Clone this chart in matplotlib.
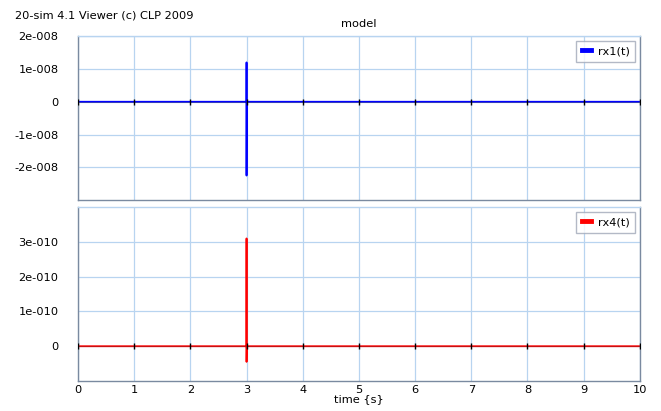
import matplotlib.pyplot as plt

plt.rcParams['font.family'] = ['DejaVu Sans']

# data
time = [0.0, 2.999, 3.0, 3.0, 3.003, 10.0]
rx1 = [0.0, 0.0, 1.2e-8, -2.25e-8, 0.0, 0.0]
rx4 = [0.0, 0.0, 3.1e-10, -0.45e-10, 0.0, 0.0]
xticks = [0, 1, 2, 3, 4, 5, 6, 7, 8, 9, 10]
top_ticks = [-2e-8, -1e-8, 0, 1e-8, 2e-8]
top_labels = ['-2e-008', '-1e-008', '0', '1e-008', '2e-008']
bot_ticks = [0, 1e-10, 2e-10, 3e-10]
bot_labels = ['0', '1e-010', '2e-010', '3e-010']

fig = plt.figure(figsize=(6.61, 4.11), dpi=100)
ax1 = fig.add_axes([0.118, 0.513, 0.850, 0.399])
ax2 = fig.add_axes([0.118, 0.073, 0.850, 0.423])

grid_col = '#b8d4f0'
spine_col = '#7a8aa0'
fs = 8.2


def style(ax, yt, yl, ylim, show_x):
    ax.set_xlim(0, 10)
    ax.set_ylim(*ylim)
    ax.set_xticks(xticks)
    ax.set_yticks(yt)
    ax.set_yticklabels(yl)
    if show_x:
        ax.set_xticklabels([str(x) for x in xticks])
    else:
        ax.set_xticklabels([])
    ax.tick_params(length=0, labelsize=fs, pad=14)
    ax.tick_params(axis='x', pad=3)
    ax.grid(True, color=grid_col, lw=0.9)
    ax.set_axisbelow(True)
    for s in ax.spines.values():
        s.set_color(spine_col)
        s.set_linewidth(1.0)
    ax.spines['top'].set_color(grid_col)
    # small tick marks on the zero line
    ax.plot(xticks, [0] * len(xticks), '|', color='black', ms=4, mew=1, zorder=5)


def add_legend(ax):
    leg = ax.legend(loc='upper right', fontsize=fs, handlelength=0.8, fancybox=False,
                    edgecolor='#a0a8b8', borderpad=0.5, handletextpad=0.6,
                    borderaxespad=0.4)
    for h in leg.get_lines():
        h.set_linewidth(3.5)


ax1.plot(time, rx1, color='#0000ff', lw=1.3, label='rx1(t)')
ax1.axhline(0, color='#303060', lw=0.6, alpha=0.5)
style(ax1, top_ticks, top_labels, (-3e-8, 2e-8), False)
add_legend(ax1)

ax2.plot(time, rx4, color='#ff0000', lw=1.3, label='rx4(t)')
ax2.axhline(0, color='#603030', lw=0.6, alpha=0.4)
style(ax2, bot_ticks, bot_labels, (-1e-10, 4e-10), True)
ax2.set_xlabel('time {s}', fontsize=fs, labelpad=-1)
add_legend(ax2)

fig.text(0.022, 0.955, '20-sim 4.1 Viewer (c) CLP 2009', fontsize=fs)
fig.text(0.543, 0.935, 'model', fontsize=fs, ha='center')

fig.savefig('out.png', dpi=100)
